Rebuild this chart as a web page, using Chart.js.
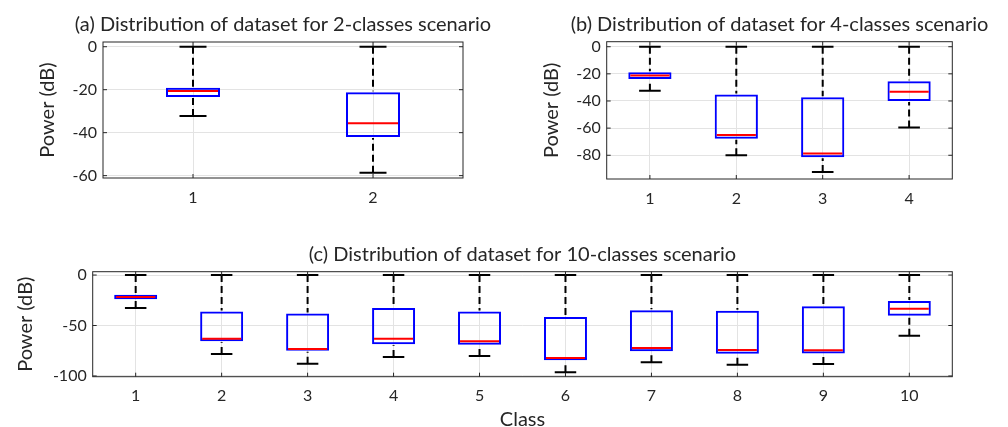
<!DOCTYPE html>
<html>
<head>
<meta charset="utf-8">
<script src="https://cdn.jsdelivr.net/npm/chart.js@4.4.1/dist/chart.umd.min.js"></script>
<style>
  body { margin: 0; background: #fff; }
  #wrap { position: relative; width: 1008px; height: 427px; overflow: hidden; }
  canvas { position: absolute; }
</style>
</head>
<body>
<div id="wrap">
  <canvas id="chartA" width="504" height="215" style="left:0;top:0"></canvas>
  <canvas id="chartB" width="504" height="215" style="left:504px;top:0"></canvas>
  <canvas id="chartC" width="1008" height="212" style="left:0;top:215px"></canvas>
</div>
<script>
// (a) 2 classes
const classesA = ['1', '2'];
const lowA  = [-32.2, -58.6];
const q1A   = [-23.4, -42.0];
const medA  = [-20.6, -35.6];
const q3A   = [-19.1, -21.2];
const highA = [0, 0];
const yTicksA = [0, -20, -40, -60];

// (b) 4 classes
const classesB = ['1', '2', '3', '4'];
const lowB  = [-32.4, -80.0, -92.4, -59.6];
const q1B   = [-23.8, -67.9, -81.4, -40.1];
const medB  = [-21.3, -65.0, -78.7, -33.1];
const q3B   = [-18.8, -35.3, -37.2, -25.4];
const highB = [0, 0, 0, 0];
const yTicksB = [0, -20, -40, -60, -80];

// (c) 10 classes
const classesC = ['1', '2', '3', '4', '5', '6', '7', '8', '9', '10'];
const lowC  = [-32.7, -78.2, -87.8, -81.2, -80.2, -96.4, -86.5, -88.8, -88.1, -60.1];
const q1C   = [-24.1, -65.7, -74.9, -68.6, -69.0, -84.5, -75.6, -77.9, -77.6, -40.3];
const medC  = [-21.8, -63.0, -73.3, -63.0, -65.7, -82.2, -72.3, -74.3, -74.6, -33.3];
const q3C   = [-19.5, -36.0, -38.0, -32.7, -36.0, -41.6, -35.0, -35.3, -31.0, -25.7];
const highC = [0, 0, 0, 0, 0, 0, 0, 0, 0, 0];
const yTicksC = [0, -50, -100];

const FONT = 'Lato, "Open Sans", "DejaVu Sans", sans-serif';
const TEXT = '#262626';

// let the title run wider than the plot area, centred on it
const wideTitle = {
  id: 'wideTitle',
  afterLayout(chart) {
    const t = chart.titleBlock;
    const c = (chart.chartArea.left + chart.chartArea.right) / 2;
    t.left = c - 240;
    t.right = c + 240;
    t.width = 480;
  }
};

// whiskers, medians, axis box and inward ticks
const boxPlotExtras = {
  id: 'boxPlotExtras',
  afterDatasetsDraw(chart, args, opts) {
    const {ctx, chartArea: a, scales: {x, y}} = chart;
    const meta = chart.getDatasetMeta(0);
    ctx.save();
    meta.data.forEach((bar, i) => {
      const cx = x.getPixelForValue(i);
      const hw = bar.width / 2;
      const yLow = y.getPixelForValue(opts.low[i]);
      const yHigh = y.getPixelForValue(opts.high[i]);
      const yQ1 = y.getPixelForValue(opts.q1[i]);
      const yQ3 = y.getPixelForValue(opts.q3[i]);
      const yMed = y.getPixelForValue(opts.med[i]);
      ctx.strokeStyle = '#000';
      ctx.lineWidth = 2;
      ctx.setLineDash([7, 4]);
      ctx.beginPath();
      ctx.moveTo(cx, yHigh); ctx.lineTo(cx, yQ3 - 1);
      ctx.moveTo(cx, yLow); ctx.lineTo(cx, yQ1 + 1);
      ctx.stroke();
      ctx.setLineDash([]);
      ctx.beginPath();
      ctx.moveTo(cx - hw / 2, yHigh); ctx.lineTo(cx + hw / 2, yHigh);
      ctx.moveTo(cx - hw / 2, yLow); ctx.lineTo(cx + hw / 2, yLow);
      ctx.stroke();
      ctx.strokeStyle = '#ff0000';
      ctx.beginPath();
      ctx.moveTo(cx - hw + 2, yMed); ctx.lineTo(cx + hw - 2, yMed);
      ctx.stroke();
    });
    ctx.strokeStyle = '#262626';
    ctx.lineWidth = 1;
    ctx.strokeRect(a.left, a.top, a.right - a.left, a.bottom - a.top);
    ctx.beginPath();
    y.ticks.forEach(t => {
      const py = y.getPixelForValue(t.value);
      ctx.moveTo(a.left, py); ctx.lineTo(a.left + 4, py);
      ctx.moveTo(a.right, py); ctx.lineTo(a.right - 4, py);
    });
    x.ticks.forEach((t, i) => {
      const px = x.getPixelForValue(i);
      ctx.moveTo(px, a.bottom); ctx.lineTo(px, a.bottom - 4);
      ctx.moveTo(px, a.top); ctx.lineTo(px, a.top + 4);
    });
    ctx.stroke();
    ctx.restore();
  }
};

function boxChart(id, s) {
  return new Chart(document.getElementById(id), {
    type: 'bar',
    data: {
      labels: s.labels,
      datasets: [{
        data: s.labels.map((_, i) => [s.q1[i], s.q3[i]]),
        backgroundColor: 'rgba(0,0,0,0)',
        borderColor: '#0000ff',
        borderWidth: 2,
        borderSkipped: false,
        barPercentage: s.barPct,
        categoryPercentage: 1
      }]
    },
    plugins: [wideTitle, boxPlotExtras],
    options: {
      responsive: false,
      animation: false,
      devicePixelRatio: 1,
      layout: { padding: s.padding },
      plugins: {
        legend: { display: false },
        tooltip: { enabled: false },
        title: {
          display: true,
          text: s.title,
          fullSize: false,
          color: TEXT,
          font: { family: FONT, size: 20, weight: 'normal', lineHeight: 1.2 },
          padding: s.titlePad
        },
        boxPlotExtras: { low: s.low, q1: s.q1, med: s.med, q3: s.q3, high: s.high }
      },
      scales: {
        x: {
          offset: true,
          grid: { offset: false, color: '#e3e3e3', drawTicks: false },
          border: { display: false },
          ticks: { color: TEXT, font: { family: FONT, size: 16 }, padding: 10, autoSkip: false, maxRotation: 0 },
          title: {
            display: !!s.xTitle,
            text: s.xTitle || '',
            color: TEXT,
            font: { family: FONT, size: 20, lineHeight: 1 },
            padding: { top: 0, bottom: -3 }
          },
          afterFit: sc => { sc.height = s.xHeight; }
        },
        y: {
          min: s.yMin,
          max: s.yMax,
          grid: { color: '#e3e3e3', drawTicks: false },
          border: { display: false },
          ticks: { color: TEXT, font: { family: FONT, size: 16 }, padding: 6 },
          afterBuildTicks: sc => { sc.ticks = s.yTicks.map(v => ({ value: v })); },
          title: {
            display: true,
            text: 'Power (dB)',
            color: TEXT,
            font: { family: FONT, size: 20, lineHeight: 1 },
            padding: { top: s.yTitlePad, bottom: 0 }
          },
          afterFit: sc => { sc.width = s.yWidth; }
        }
      }
    }
  });
}

boxChart('chartA', {
  labels: classesA, low: lowA, q1: q1A, med: medA, q3: q3A, high: highA,
  yTicks: yTicksA, yMin: -61.1, yMax: 2.2, barPct: 0.3,
  title: '(a) Distribution of dataset for 2-classes scenario',
  padding: { left: 33, right: 41, top: 0, bottom: 0 },
  titlePad: { top: 13, bottom: 5 },
  yWidth: 70, yTitlePad: 4.5, xHeight: 37
});

boxChart('chartB', {
  labels: classesB, low: lowB, q1: q1B, med: medB, q3: q3B, high: highB,
  yTicks: yTicksB, yMin: -97.5, yMax: 3.7, barPct: 0.5,
  title: '(b) Distribution of dataset for 4-classes scenario',
  padding: { left: 32.7, right: 55.7, top: 0, bottom: 0 },
  titlePad: { top: 13, bottom: 4.7 },
  yWidth: 70, yTitlePad: 5.3, xHeight: 36
});

boxChart('chartC', {
  labels: classesC, low: lowC, q1: q1C, med: medC, q3: q3C, high: highC,
  yTicks: yTicksC, yMin: -100.7, yMax: 3.3, barPct: 0.5,
  title: '(c) Distribution of dataset for 10-classes scenario',
  xTitle: 'Class',
  padding: { left: 15.3, right: 55.7, top: 0, bottom: 0 },
  titlePad: { top: 28, bottom: 4.7 },
  yWidth: 77.4, yTitlePad: 0.2, xHeight: 50.3
});
</script>
</body>
</html>
